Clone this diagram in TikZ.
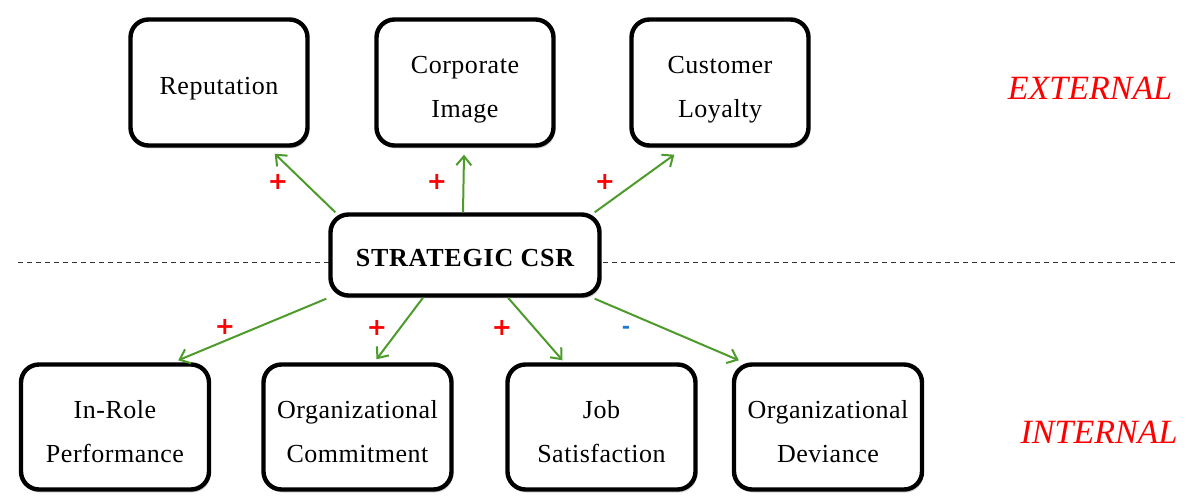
\documentclass[tikz,border=0pt]{standalone}
\usepackage{fontspec}
\setmainfont{Liberation Serif}
\newfontfamily\boxfont[LetterSpace=2]{Liberation Serif}
\newfontfamily\csrfont[LetterSpace=3]{Liberation Serif}
\newfontfamily\signfont{DejaVu Sans}
\usetikzlibrary{arrows.meta,shadows,calc}
\definecolor{arrowgreen}{RGB}{77,155,42}
\definecolor{signred}{RGB}{255,0,0}
\definecolor{signblue}{RGB}{30,120,210}
\begin{document}
\begin{tikzpicture}[x=1pt,y=-1pt,
  box/.style={draw=black, line width=4.4pt, rounded corners=18pt, fill=white,
    inner sep=0pt,
    drop shadow={shadow xshift=1.5pt, shadow yshift=-3pt, opacity=0.35, fill=gray}},
  lab/.style={align=center, inner sep=0pt, font=\boxfont\fontsize{26}{44}\selectfont},
  topbox/.style={box, minimum width=177pt, minimum height=126pt},
  botbox/.style={box, minimum width=188pt, minimum height=125pt},
  link/.style={draw=arrowgreen, line width=2pt, -{Straight Barb[length=9pt,width=15pt]}},
  plus/.style={text=signred, font=\signfont\bfseries\fontsize{24}{24}\selectfont, inner sep=0pt},
  minus/.style={text=signblue, font=\signfont\bfseries\fontsize{20}{20}\selectfont, inner sep=0pt},
  side/.style={text=signred, font=\itshape\fontsize{34}{34}\selectfont, inner sep=0pt}]
\useasboundingbox (0,0) rectangle (1190,502);
% dashed divider
\coordinate (dl) at (18,262);
\coordinate (dr) at (1176,262);
\draw[line width=0.9pt, dash pattern=on 5pt off 4pt, black!80] (dl) -- (dr);
% nodes
\node[topbox, label={[lab, yshift=-6pt]center:Reputation}] (rep) at (219,82.5) {};
\node[topbox, label={[lab, yshift=-7pt]center:Corporate\\Image}] (corp) at (465,82.5) {};
\node[topbox, label={[lab, yshift=-7pt]center:Customer\\Loyalty}] (loy) at (720,82.5) {};
\node[box, minimum width=269pt, minimum height=81pt,
  label={[inner sep=0pt, font=\csrfont\bfseries\fontsize{26}{26}\selectfont, yshift=-3pt]center:STRATEGIC CSR}] (csr) at (465,255) {};
\node[botbox, label={[lab, yshift=-5pt]center:In-Role\\Performance}] (inrole) at (115,427) {};
\node[botbox, label={[lab, yshift=-5pt]center:Organizational\\Commitment}] (commit) at (357.5,427) {};
\node[botbox, label={[lab, yshift=-5pt]center:Job\\Satisfaction}] (job) at (601.5,427) {};
\node[botbox, label={[lab, yshift=-5pt]center:Organizational\\Deviance}] (dev) at (828,427) {};
% connectors
\draw[link] ($(csr.north west)+(7,0)$) -- ($(rep.south east)+(-35,6)$);
\draw[link] ($(csr.north)+(-2,0)$) -- ($(corp.south)+(-1,7)$);
\draw[link] ($(csr.north east)+(-7,0)$) -- ($(loy.south west)+(45,7)$);
\draw[link] ($(csr.south west)+(-2,1)$) -- ($(inrole.north east)+(-33,-2)$);
\draw[link] ($(csr.south)+(-42,0)$) -- ($(commit.north)+(19,-3)$);
\draw[link] ($(csr.south)+(43,0)$) -- ($(job.north)+(-39,-2)$);
\draw[link] ($(csr.south east)+(-7,1)$) -- ($(dev.north west)+(7,-2)$);
% signs
\node[plus] (p1) at (278,182) {+};
\node[plus] (p2) at (437,182) {+};
\node[plus] (p3) at (605,182) {+};
\node[plus] (p4) at (225,327) {+};
\node[plus] (p5) at (377,328) {+};
\node[plus] (p6) at (502,328) {+};
\node[minus] (m1) at (626,330) {-};
% side labels
\node[side] (ext) at (1090,88) {EXTERNAL};
\node[side] (int) at (1099,432) {INTERNAL};
\end{tikzpicture}
\end{document}
